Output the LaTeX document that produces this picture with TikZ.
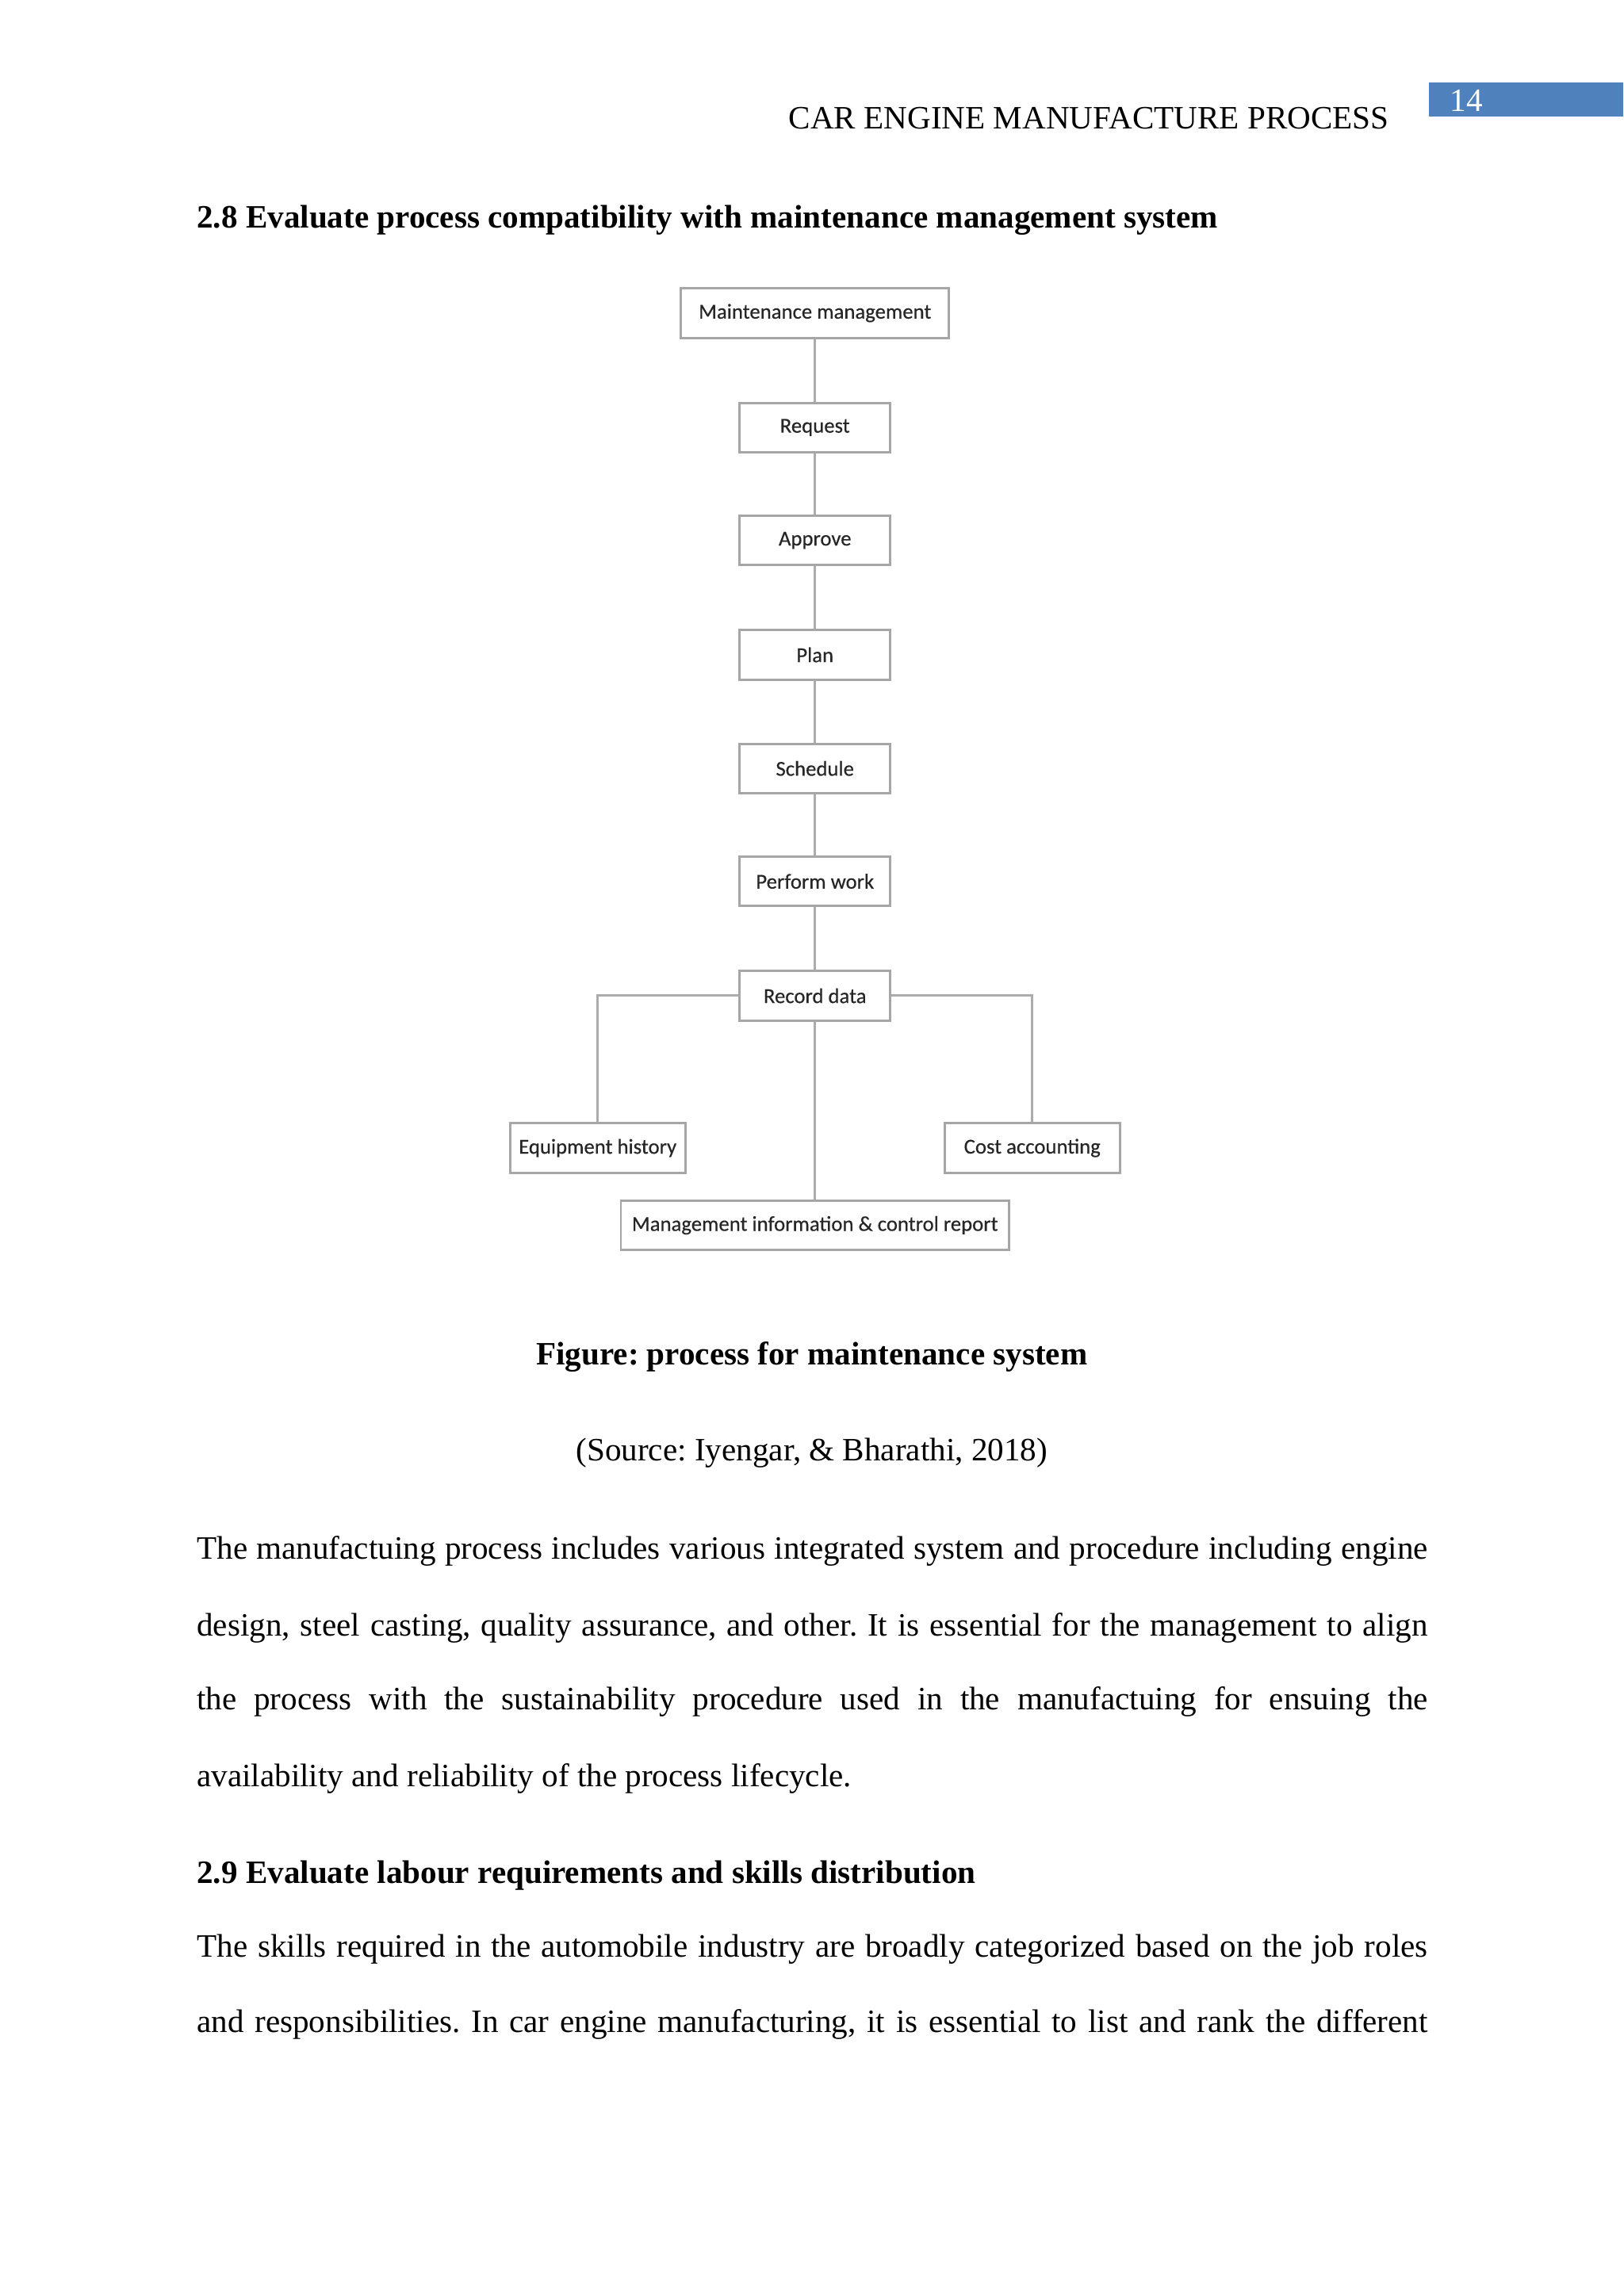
\documentclass[tikz,border=0pt]{standalone}
\usepackage{fontspec}
\setmainfont{Liberation Serif}
\newfontfamily\boxfont[FakeBold=0.4]{Carlito}
\definecolor{hdrblue}{RGB}{79,129,189}
\frenchspacing
\begin{document}
\frenchspacing
\begin{tikzpicture}[x=1mm,y=-1mm,
  txt/.style={inner sep=0, font=\fontsize{12}{14}\selectfont},
  heading/.style={inner sep=0, font=\fontsize{12}{14}\selectfont\bfseries},
  bx/.style={draw=gray!70, line width=0.3mm, fill=white, inner sep=0, minimum height=6.4mm, font=\boxfont\fontsize{7.8}{9}\selectfont, text=black!85},
  conn/.style={draw=gray!65, line width=0.3mm}]
\useasboundingbox[fill=white] (0,0) rectangle (210,297);
% header
\node[txt, anchor=base east] (hdr) at (179.7,16.7) {CAR ENGINE MANUFACTURE PROCESS};
\node[fill=hdrblue, minimum width=25.2mm, minimum height=4.4mm, anchor=north west, inner sep=0] (pgbox) at (184.7,10.6) {};
\node[txt, text=white, anchor=base west] (pgnum) at (187.5,14.4) {14};
% section heading
\node[heading, anchor=base west] (h28) at (25.4,29.5) {2.8 Evaluate process compatibility with maintenance management system};
% diagram
\node[bx, minimum width=34.7mm] (mm) at (105.4,40.5) {Maintenance management};
\node[bx, minimum width=19.5mm] (req) at (105.4,55.3) {Request};
\node[bx, minimum width=19.5mm] (app) at (105.4,69.9) {Approve};
\node[bx, minimum width=19.5mm] (plan) at (105.4,84.7) {Plan};
\node[bx, minimum width=19.5mm] (sch) at (105.4,99.4) {Schedule};
\node[bx, minimum width=19.5mm] (pw) at (105.4,114.0) {Perform work};
\node[bx, minimum width=19.5mm] (rd) at (105.4,128.8) {Record data};
\node[bx, minimum width=22.7mm] (eq) at (77.3,148.5) {Equipment history};
\node[bx, minimum width=22.7mm] (cost) at (133.5,148.5) {Cost accounting};
\node[bx, minimum width=50.2mm] (mic) at (105.4,158.5) {Management information \& control report};
\draw[conn] (mm) -- (req);
\draw[conn] (req) -- (app);
\draw[conn] (app) -- (plan);
\draw[conn] (plan) -- (sch);
\draw[conn] (sch) -- (pw);
\draw[conn] (pw) -- (rd);
\draw[conn] (rd.west) -| (eq.north);
\draw[conn] (rd.east) -| (cost.north);
\draw[conn] (rd) -- (mic);
% caption
\node[heading, anchor=base] (cap) at (105.0,176.5) {Figure: process for maintenance system};
\node[txt, anchor=base] (src) at (105.0,189.0) {(Source: Iyengar, \& Bharathi, 2018)};
% paragraph
\node[txt, anchor=base west] (l1) at (25.4,201.7) {\makebox[159.2mm][s]{The manufactuing process includes various integrated system and procedure including engine}};
\node[txt, anchor=base west] (l2) at (25.4,211.6) {\makebox[159.2mm][s]{design, steel casting, quality assurance, and other. It is essential for the management to align}};
\node[txt, anchor=base west] (l3) at (25.4,221.2) {\makebox[159.2mm][s]{the process with the sustainability procedure used in the manufactuing for ensuing the}};
\node[txt, anchor=base west] (l4) at (25.4,231.1) {availability and reliability of the process lifecycle.};
\node[heading, anchor=base west] (h29) at (25.4,243.6) {2.9 Evaluate labour requirements and skills distribution};
\node[txt, anchor=base west] (l5) at (25.4,253.2) {\makebox[159.2mm][s]{The skills required in the automobile industry are broadly categorized based on the job roles}};
\node[txt, anchor=base west] (l6) at (25.4,262.9) {\makebox[159.2mm][s]{and responsibilities. In car engine manufacturing, it is essential to list and rank the different}};
\end{tikzpicture}
\end{document}
